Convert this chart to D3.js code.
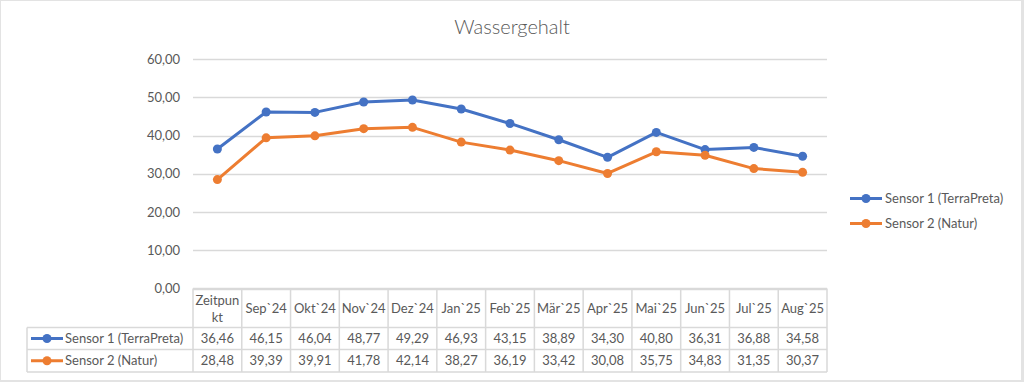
<!DOCTYPE html>
<html>
<head>
<meta charset="utf-8">
<script src="https://cdn.jsdelivr.net/npm/d3@7"></script>
<style>
  body { margin: 0; background: #ffffff; }
  svg { display: block; font-family: Lato, "Open Sans", sans-serif; }
</style>
</head>
<body>
<div id="chart"></div>
<script>
// DATA
const categories = ["Zeitpunkt", "Sep`24", "Okt`24", "Nov`24", "Dez`24", "Jan`25", "Feb`25",
    "Mär`25", "Apr`25", "Mai`25", "Jun`25", "Jul`25", "Aug`25"];
const sensor1 = [36.46, 46.15, 46.04, 48.77, 49.29, 46.93, 43.15, 38.89, 34.30, 40.80, 36.31, 36.88, 34.58];
const sensor2 = [28.48, 39.39, 39.91, 41.78, 42.14, 38.27, 36.19, 33.42, 30.08, 35.75, 34.83, 31.35, 30.37];
const seriesNames = ["Sensor 1 (TerraPreta)", "Sensor 2 (Natur)"];
const seriesColors = ["#4472C4", "#ED7D31"];
const yTicks = [0, 10, 20, 30, 40, 50, 60];

// SETUP
const W = 1024, H = 382;
const plot = { left: 193, right: 827, top: 59, bottom: 288.5 };
const rowTop = [288.5, 327.5, 349.5, 372];
const tableLeft = 27;
const gridColor = "#d9d9d9";
const textColor = "#595959";

const de = d3.formatLocale({ decimal: ",", thousands: ".", grouping: [3], currency: ["", " €"] });
const fmt = de.format(".2f");

const svg = d3.select("#chart").append("svg")
    .attr("width", W)
    .attr("height", H);

// frame
svg.append("rect").attr("width", W).attr("height", H).attr("fill", "#e3e3e3");
svg.append("rect")
    .attr("x", 1).attr("y", 1)
    .attr("width", 1020).attr("height", 379)
    .attr("fill", "#ffffff");

// SCALES
const x = d3.scaleBand()
    .domain(categories)
    .range([plot.left, plot.right]);

const y = d3.scaleLinear()
    .domain([0, 60])
    .range([plot.bottom, plot.top]);

// GRIDLINES
svg.append("g")
    .selectAll("line")
    .data(yTicks)
    .enter().append("line")
    .attr("x1", plot.left)
    .attr("x2", plot.right)
    .attr("y1", d => Math.round(y(d)) + 0.5)
    .attr("y2", d => Math.round(y(d)) + 0.5)
    .attr("stroke", gridColor)
    .attr("stroke-width", 1.5);

// Y AXIS LABELS
svg.append("g")
    .selectAll("text")
    .data(yTicks)
    .enter().append("text")
    .attr("x", 180)
    .attr("y", d => y(d))
    .attr("dy", "0.35em")
    .attr("text-anchor", "end")
    .attr("font-size", 13)
    .attr("fill", textColor)
    .text(d => fmt(d));

// LINES
const series = [sensor1, sensor2];
const line = d3.line()
    .x((d, i) => x(categories[i]) + x.bandwidth() / 2)
    .y(d => y(d));

series.forEach((s, k) => {
    svg.append("path")
        .datum(s)
        .attr("d", line)
        .attr("fill", "none")
        .attr("stroke", seriesColors[k])
        .attr("stroke-width", 3)
        .attr("stroke-linejoin", "round");
    svg.append("g")
        .selectAll("circle")
        .data(s)
        .enter().append("circle")
        .attr("cx", (d, i) => x(categories[i]) + x.bandwidth() / 2)
        .attr("cy", d => y(d))
        .attr("r", 4.5)
        .attr("fill", seriesColors[k]);
});

// TITLE
svg.append("text")
    .attr("x", 512)
    .attr("y", 34)
    .attr("text-anchor", "middle")
    .attr("font-size", 20)
    .attr("font-weight", 300)
    .attr("fill", textColor)
    .text("Wassergehalt");

// LEGEND (right)
const legend = svg.append("g");
seriesNames.forEach((name, k) => {
    const ly = 198.5 + k * 25;
    legend.append("line")
        .attr("x1", 850).attr("x2", 882)
        .attr("y1", ly).attr("y2", ly)
        .attr("stroke", seriesColors[k])
        .attr("stroke-width", 3);
    legend.append("circle")
        .attr("cx", 866).attr("cy", ly).attr("r", 4.5)
        .attr("fill", seriesColors[k]);
    legend.append("text")
        .attr("x", 885).attr("y", ly)
        .attr("dy", "0.35em")
        .attr("font-size", 13)
        .attr("fill", textColor)
        .text(name);
});

// DATA TABLE
const table = svg.append("g")
    .attr("stroke", gridColor)
    .attr("stroke-width", 1.5)
    .attr("fill", "none");

// vertical lines for category columns
categories.forEach((c, i) => {
    table.append("line")
        .attr("x1", x(c)).attr("x2", x(c))
        .attr("y1", rowTop[0]).attr("y2", rowTop[3]);
});
table.append("line")
    .attr("x1", plot.right).attr("x2", plot.right)
    .attr("y1", rowTop[0]).attr("y2", rowTop[3]);
table.append("line")
    .attr("x1", tableLeft).attr("x2", tableLeft)
    .attr("y1", rowTop[1]).attr("y2", rowTop[3]);
// horizontal lines
table.append("line")
    .attr("x1", plot.left).attr("x2", plot.right)
    .attr("y1", rowTop[0]).attr("y2", rowTop[0]);
[1, 2, 3].forEach(r => {
    table.append("line")
        .attr("x1", tableLeft).attr("x2", plot.right)
        .attr("y1", rowTop[r]).attr("y2", rowTop[r]);
});

// header labels
const header = svg.append("g")
    .attr("font-size", 13)
    .attr("fill", textColor)
    .attr("text-anchor", "middle");
categories.forEach((c, i) => {
    const cx = x(c) + x.bandwidth() / 2;
    const cy = (rowTop[0] + rowTop[1]) / 2;
    if (c === "Zeitpunkt") {
        header.append("text").attr("x", cx).attr("y", cy - 8).attr("dy", "0.35em").text("Zeitpun");
        header.append("text").attr("x", cx).attr("y", cy + 9).attr("dy", "0.35em").text("kt");
    } else {
        header.append("text").attr("x", cx).attr("y", cy).attr("dy", "0.35em").text(c);
    }
});

// value rows
series.forEach((s, k) => {
    const cy = (rowTop[k + 1] + rowTop[k + 2]) / 2;
    const row = svg.append("g")
        .attr("font-size", 13)
        .attr("fill", textColor);
    row.append("line")
        .attr("x1", 31).attr("x2", 63)
        .attr("y1", cy).attr("y2", cy)
        .attr("stroke", seriesColors[k])
        .attr("stroke-width", 3);
    row.append("circle")
        .attr("cx", 47).attr("cy", cy).attr("r", 4.5)
        .attr("fill", seriesColors[k]);
    row.append("text")
        .attr("x", 65).attr("y", cy).attr("dy", "0.35em")
        .text(seriesNames[k]);
    row.selectAll("text.v")
        .data(s)
        .enter().append("text")
        .attr("class", "v")
        .attr("x", (d, i) => x(categories[i]) + x.bandwidth() / 2)
        .attr("y", cy)
        .attr("dy", "0.35em")
        .attr("text-anchor", "middle")
        .text(d => fmt(d));
});
</script>
</body>
</html>
